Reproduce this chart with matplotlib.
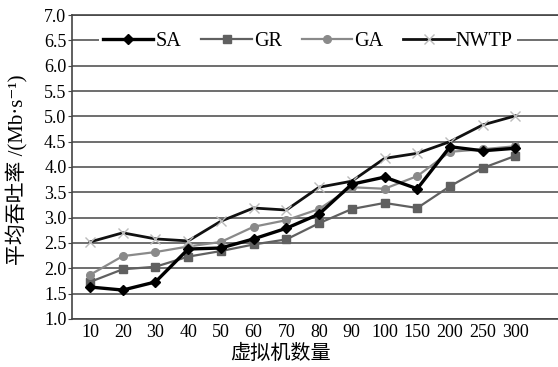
import matplotlib
matplotlib.use("Agg")
import matplotlib.pyplot as plt
import numpy as np

plt.rcParams['font.family'] = ['Liberation Serif', 'Noto Sans CJK SC', 'DejaVu Sans']

vm_counts = ["10", "20", "30", "40", "50", "60", "70", "80", "90", "100", "150", "200", "250", "300"]
sa = [1.63, 1.57, 1.73, 2.38, 2.40, 2.58, 2.79, 3.07, 3.66, 3.80, 3.57, 4.40, 4.32, 4.37]
gr = [1.73, 1.98, 2.03, 2.23, 2.34, 2.47, 2.57, 2.89, 3.17, 3.29, 3.19, 3.62, 3.98, 4.22]
ga = [1.87, 2.24, 2.32, 2.43, 2.52, 2.82, 2.95, 3.17, 3.60, 3.57, 3.82, 4.30, 4.35, 4.41]
nwtp = [2.52, 2.70, 2.58, 2.54, 2.93, 3.19, 3.15, 3.60, 3.72, 4.17, 4.27, 4.50, 4.83, 5.01]

x = np.arange(len(vm_counts))

fig = plt.figure(figsize=(5.58, 3.67), dpi=100)
ax = fig.add_axes([0.129, 0.131, 0.871, 0.828])

ax.plot(x, gr, color="#606060", lw=1.6, marker="s", ms=5.5, label="GR")
ax.plot(x, ga, color="#8a8a8a", lw=1.6, marker="o", ms=5.5, label="GA")
ax.plot(x, nwtp, color="#111111", lw=2.0, marker="x", ms=7, mec="#bbbbbb", mew=1.0, label="NWTP")
ax.plot(x, sa, color="#000000", lw=2.4, marker="D", ms=5, label="SA")

ax.set_ylim(1.0, 7.0)
ax.set_yticks(np.arange(1.0, 7.01, 0.5))
ax.set_yticklabels([f"{v:.1f}" for v in np.arange(1.0, 7.01, 0.5)])
ax.set_xlim(-0.55, 14.3)
ax.set_xticks(x)
ax.set_xticklabels(vm_counts)
ax.tick_params(axis="x", length=0, labelsize=13, pad=4)
ax.tick_params(axis="y", length=3, labelsize=13, pad=1, color="#444444")
ax.grid(axis="y", color="#555555", lw=1.2)
ax.set_axisbelow(True)

for s in ["left", "bottom", "top"]:
    ax.spines[s].set_color("#444444")
    ax.spines[s].set_linewidth(1.2)
ax.spines["right"].set_visible(False)

ax.set_ylabel("平均吞吐率 /(Mb·s⁻¹)", fontsize=15, labelpad=2)
ax.set_xlabel("虚拟机数量", fontsize=14.5, labelpad=4)
ax.xaxis.set_label_coords(0.428, -0.085)
ax.yaxis.set_label_coords(-0.09, 0.49)

h, l = ax.get_legend_handles_labels()
order = [3, 0, 1, 2]
leg = ax.legend([h[i] for i in order], [l[i] for i in order], loc="upper left",
                bbox_to_anchor=(0.035, 0.99), ncol=4, frameon=True, framealpha=1,
                edgecolor="none", fontsize=14.5, handlelength=2.5, handletextpad=0.1,
                columnspacing=1.0, borderpad=0.2, fancybox=False)

fig.savefig("out.png", dpi=100)
